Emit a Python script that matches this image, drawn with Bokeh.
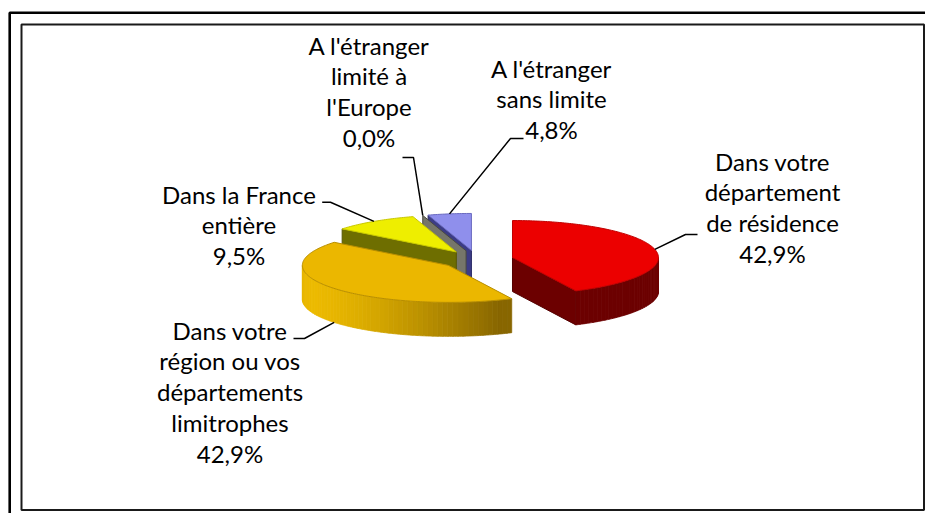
import numpy as np
from bokeh.plotting import figure
from bokeh.models import ColumnDataSource, Range1d
from bokeh.embed import file_html
from bokeh.resources import INLINE
from bokeh.core.properties import value

# ---------------- data ----------------
categories = [
    "Dans votre département de résidence",
    "Dans votre région ou vos départements limitrophes",
    "Dans la France entière",
    "A l'étranger limité à l'Europe",
    "A l'étranger sans limite",
]
values = [42.9, 42.9, 9.5, 0.0, 4.8]
percent_labels = ["42,9%", "42,9%", "9,5%", "0,0%", "4,8%"]
label_lines = [
    ["Dans votre", "département", "de résidence"],
    ["Dans votre", "région ou vos", "départements", "limitrophes"],
    ["Dans la France", "entière"],
    ["A l'étranger", "limité à", "l'Europe"],
    ["A l'étranger", "sans limite"],
]

# ---------------- styles / layout ----------------
W, H = 925, 513
top_colors = ["#EC0000", "#EBB700", "#EEEE00", "#7C7C70", "#8F8FEC"]
top_edges = ["#C00000", "#B88E00", "#C8C800", "#55554A", "#6A6AC0"]
side_dark = [(108, 0, 0), (136, 102, 0), (102, 102, 0), (110, 110, 98), (55, 55, 120)]
side_bright = [(150, 0, 0), (236, 186, 0), (125, 125, 0), (130, 130, 115), (80, 80, 150)]
cut_colors = ["#6C0000", "#8A6A00", "#6E6E00", "#76766A", "#3C3C86"]
cut_edges = ["#550000", "#6A5200", "#555500", "#4A4A40", "#2A2A66"]

label_pos = [(772, 160.5), (229.5, 329.5), (238.5, 193.5), (368.5, 44.5), (551, 67.5)]
leader_elbow = [(685, 234), (304, 338), (330, 201.7), (413, 157), (510, 138)]
leader_end = [(697, 234), (293, 338), (321.7, 201.7), (402, 157), (523, 138)]
LINE_STEP = 30.8

CX, CY, RA, RB, DEPTH, EXPLODE = 476.4, 259.1, 146.0, 37.0, 34.0, 0.25

p = figure(width=W, height=H, x_range=Range1d(0, W), y_range=Range1d(H, 0),
           output_backend="svg", toolbar_location=None,
           x_axis_type=None, y_axis_type=None, min_border=0)
p.outline_line_color = None
p.background_fill_color = "white"
p.border_fill_color = "white"

p.quad(left=[9.2], right=[960], top=[12.2], bottom=[540], fill_color=None,
       line_color="black", line_width=2.6)
p.quad(left=[21], right=[923.5], top=[24], bottom=[509.5], fill_color=None,
       line_color="#1a1a1a", line_width=2)


def hexc(c):
    return "#%02x%02x%02x" % tuple(int(round(v)) for v in c)


def pt(cx, cy, th, z=0.0):
    return cx + RA * np.sin(th), cy - RB * np.cos(th) + z


vals = np.array(values, dtype=float)
frac = vals / vals.sum()
ends = np.cumsum(frac) * 2 * np.pi
starts = ends - frac * 2 * np.pi
mids = (starts + ends) / 2

centers = [(CX + EXPLODE * RA * np.sin(m), CY - EXPLODE * RB * np.cos(m)) for m in mids]
order = sorted(range(len(values)), key=lambda i: centers[i][1])

xs, ys, fills, lines, lws = [], [], [], [], []


def add(px, py, fc, lc, lw):
    xs.append(list(px)); ys.append(list(py)); fills.append(fc); lines.append(lc); lws.append(lw)


light_dir = np.radians(250)
for i in order:
    cx, cy = centers[i]
    t0, t1 = starts[i], ends[i]
    for th, vis in ((t0, np.sin(t0) < -1e-9), (t1, np.sin(t1) > 1e-9)):
        if vis:
            ex, ey = pt(cx, cy, th)
            add([cx, ex, ex, cx], [cy, ey, ey + DEPTH, cy + DEPTH], cut_colors[i], cut_edges[i], 1)
    lo, hi = max(t0, np.pi / 2), min(t1, 3 * np.pi / 2)
    if hi > lo:
        n = max(2, int(np.degrees(hi - lo) / 2) + 1)
        edges = np.linspace(lo, hi, n + 1)
        for a, b in zip(edges[:-1], edges[1:]):
            th = np.linspace(a, b, 4)
            tx, ty = pt(cx, cy, th)
            bx, by = pt(cx, cy, th[::-1], DEPTH)
            t = float(np.clip(np.cos((a + b) / 2 - light_dir), 0, 1))
            c = [side_dark[i][k] + t * (side_bright[i][k] - side_dark[i][k]) for k in range(3)]
            add(np.r_[tx, bx], np.r_[ty, by], hexc(c), hexc(c), 0.8)
    if t1 - t0 > 1e-6:
        th = np.linspace(t0, t1, max(3, int(np.degrees(t1 - t0)) + 2))
        ax, ay = pt(cx, cy, th)
        add(np.r_[cx, ax], np.r_[cy, ay], top_colors[i], top_edges[i], 1)

src = ColumnDataSource(dict(xs=xs, ys=ys, fill=fills, line=lines, lw=lws))
p.patches("xs", "ys", source=src, fill_color="fill", line_color="line", line_width="lw")

lx, ly = [], []
for i in range(len(values)):
    cx, cy = centers[i]
    z = DEPTH if np.cos(mids[i]) < 0 else 0.0
    axp, ayp = pt(cx, cy, mids[i], z)
    lx.append([leader_end[i][0], leader_elbow[i][0], axp])
    ly.append([leader_end[i][1], leader_elbow[i][1], ayp])
p.multi_line(lx, ly, line_color="black", line_width=1.5)

tx, ty, tt = [], [], []
for i in range(len(values)):
    x0, y0 = label_pos[i]
    for k, s in enumerate(label_lines[i] + [percent_labels[i]]):
        tx.append(x0); ty.append(y0 + k * LINE_STEP); tt.append(s)
p.text(tx, ty, text=tt, text_align="center", text_baseline="middle",
       text_font=value("Lato"), text_font_size="24px", text_color="black")

open("out.html", "w").write(file_html(p, INLINE))
